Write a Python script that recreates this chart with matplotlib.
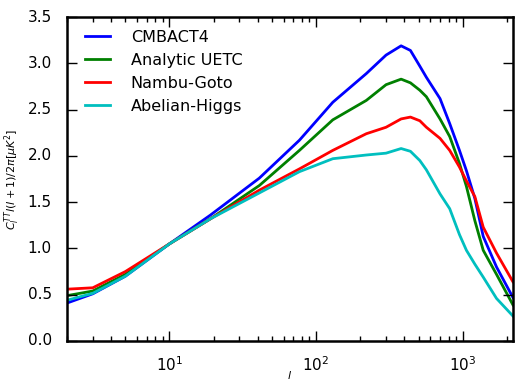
import matplotlib
matplotlib.use('Agg')
import matplotlib.pyplot as plt

# multipoles and normalised C_l^TT curves
ell = [2, 3, 5, 10, 19, 41, 77, 130, 220, 300, 380, 440, 510, 565, 700,
       815, 950, 1060, 1210, 1380, 1700, 2200]

cmbact4 = [0.41, 0.51, 0.70, 1.05, 1.36, 1.76, 2.17, 2.58, 2.89, 3.09, 3.19,
           3.14, 2.97, 2.85, 2.62, 2.35, 2.06, 1.84, 1.54, 1.13, 0.80, 0.47]
analytic_uetc = [0.49, 0.54, 0.72, 1.05, 1.32, 1.68, 2.06, 2.39, 2.60, 2.77,
                 2.83, 2.79, 2.71, 2.64, 2.40, 2.21, 1.92, 1.67, 1.30, 0.98,
                 0.72, 0.39]
nambu_goto = [0.56, 0.575, 0.75, 1.05, 1.32, 1.63, 1.86, 2.06, 2.24, 2.31,
              2.40, 2.42, 2.38, 2.31, 2.19, 2.06, 1.88, 1.73, 1.56, 1.23,
              0.95, 0.64]
abelian_higgs = [0.44, 0.515, 0.70, 1.05, 1.32, 1.60, 1.83, 1.97, 2.01, 2.03,
                 2.08, 2.05, 1.95, 1.85, 1.59, 1.43, 1.15, 0.98, 0.83, 0.69,
                 0.46, 0.27]

labels = ['CMBACT4', 'Analytic UETC', 'Nambu-Goto', 'Abelian-Higgs']
colors = ['b', 'g', 'r', 'c']

plt.style.use('classic')
plt.rcParams['mathtext.fontset'] = 'dejavusans'

fig = plt.figure(figsize=(5.15, 3.81), dpi=100, facecolor='white')
ax = fig.add_axes([0.130, 0.105, 0.866, 0.850])

for y, lab, c in zip([cmbact4, analytic_uetc, nambu_goto, abelian_higgs],
                     labels, colors):
    ax.plot(ell, y, color=c, linewidth=2, label=lab)

ax.set_xscale('log')
ax.set_xlim(2, 2200)
ax.set_ylim(0, 3.5)
ax.set_yticks([0.0, 0.5, 1.0, 1.5, 2.0, 2.5, 3.0, 3.5])

for s in ax.spines.values():
    s.set_linewidth(1.8)
ax.tick_params(which='major', length=7, width=1, labelsize=11)
ax.tick_params(axis='y', which='major', pad=11)
ax.tick_params(axis='x', which='major', pad=10)
ax.tick_params(which='minor', length=3.5, width=1)

ax.set_xlabel('$l$', fontsize=8, labelpad=-3)
ax.set_ylabel(r'$C_l^{TT}l(l+1)/2\pi[\mu K^2]$', fontsize=8, labelpad=4)

ax.legend(loc='upper left', frameon=False, fontsize=11.5, handlelength=2.2,
          borderaxespad=0.4, labelspacing=0.5, handletextpad=1.0)

fig.savefig('out.png', dpi=100, facecolor='white')
